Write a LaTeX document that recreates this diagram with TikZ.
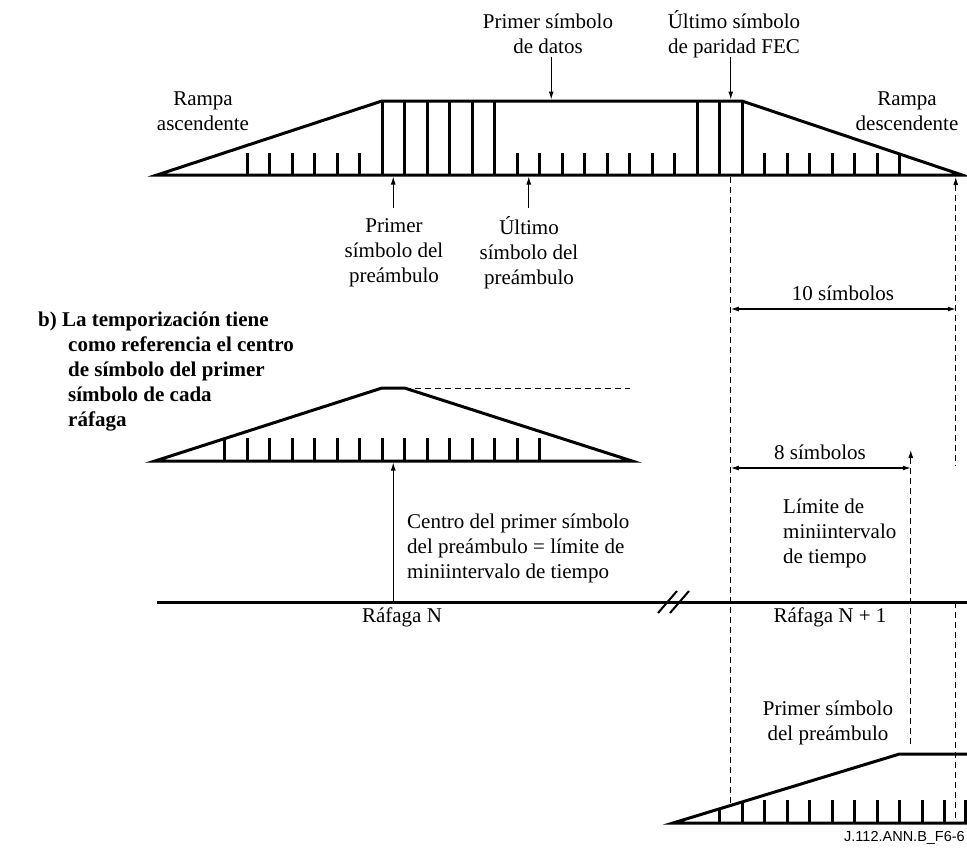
\documentclass[tikz,border=0pt]{standalone}
\usepackage{fontspec}
\setmainfont{Liberation Serif}
\newfontfamily\labelsans{Liberation Sans}
\usetikzlibrary{arrows.meta}
\begin{document}
\begin{tikzpicture}[x=1pt,y=-1pt,
  burst/.style={line width=3pt},
  tickmark/.style={line width=3pt},
  guide/.style={line width=1pt, dash pattern=on 6pt off 4pt},
  pointer/.style={line width=1.1pt, -{Latex[length=8pt,width=5pt]}},
  span/.style={line width=1.1pt, {Latex[length=8pt,width=5pt]}-{Latex[length=8pt,width=5pt]}},
  lbl/.style={font=\fontsize{21}{25}\selectfont, inner sep=0pt, align=center},
  lbll/.style={font=\fontsize{21}{25}\selectfont, inner sep=0pt, align=left, anchor=west},
]
\useasboundingbox (0,0) rectangle (967,849);

% ---------- upper burst (symbol grid: x = 382 + 22.5 k) ----------
\begin{scope}
  \clip (157,175) -- (382,101) -- (742,101) -- (962,175) -- cycle;
  \foreach \k in {-6,...,-1,6,7,...,13,17,18,...,23}
    \draw[tickmark] (382+22.5*\k,175) -- ++(0,-22.5);
  \foreach \k in {0,...,5,14,15,16}
    \draw[tickmark] (382+22.5*\k,175) -- (382+22.5*\k,101);
\end{scope}
\draw[burst] (157,175) -- (382,101) -- (742,101) -- (962,175) -- cycle;

\node[lbl] (rampUp) at (203,111) {Rampa\\ascendente};
\node[lbl] (rampDown) at (907,111) {Rampa\\descendente};
\node[lbl] (firstData) at (548,34) {Primer símbolo\\de datos};
\node[lbl] (lastFec) at (734,34) {Último símbolo\\de paridad FEC};
\node[lbl] (firstPre) at (394,253) {Primer\\símbolo del\\preámbulo};
\node[lbl] (lastPre) at (529,253) {Último\\símbolo del\\preámbulo};

\coordinate (dataTail) at (551.25,57);
\coordinate (dataHead) at (551.25,99.5);
\coordinate (fecTail) at (730.75,57);
\coordinate (fecHead) at (730.75,99.5);
\coordinate (preTail) at (393.25,208);
\coordinate (preHead) at (393.25,176.5);
\coordinate (lastPreTail) at (528.75,208);
\coordinate (lastPreHead) at (528.75,176.5);
\draw[pointer] (dataTail) -- (dataHead);
\draw[pointer] (fecTail) -- (fecHead);
\draw[pointer] (preTail) -- (preHead);
\draw[pointer] (lastPreTail) -- (lastPreHead);

% ---------- timing guides ----------
\coordinate (gA0) at (730.75,177);
\coordinate (gA1) at (730.75,805);
\coordinate (gB0) at (955.75,177);
\coordinate (gB1) at (955.75,465);
\coordinate (gB2) at (955.75,602);
\coordinate (gB3) at (955.75,823);
\coordinate (gC0) at (910.75,450);
\coordinate (gC1) at (910.75,744);
\draw[guide] (gA0) -- (gA1);
\draw[guide, {Latex[length=8pt,width=5pt]}-] (gB0) -- (gB1);
\draw[guide] (gB2) -- (gB3);
\draw[guide, {Latex[length=8pt,width=5pt]}-] (gC0) -- (gC1);

\coordinate (tenL) at (730.75,309);
\coordinate (tenR) at (955.75,309);
\draw[span] (tenL) -- (tenR);
\node[lbl] (tenLbl) at (843,293) {10 símbolos};

\coordinate (eightL) at (730.75,468);
\coordinate (eightR) at (910.75,468);
\draw[span] (eightL) -- (eightR);
\node[lbl] (eightLbl) at (820,452) {8 símbolos};

\node[lbll] (limitLbl) at (783,533) {Límite de\\miniintervalo\\de tiempo};

% ---------- explanatory note ----------
\node[lbll, font=\bfseries\fontsize{21}{25}\selectfont] (note) at (38,372)
  {b) La temporización tiene\\\hspace*{30pt}como referencia el centro\\\hspace*{30pt}de símbolo del primer\\\hspace*{30pt}símbolo de cada\\\hspace*{30pt}ráfaga};

% ---------- middle burst ----------
\begin{scope}
  \clip (155,461) -- (382,388) -- (404.5,388) -- (632,461) -- cycle;
  \foreach \k in {-7,...,7}
    \draw[tickmark] (382+22.5*\k,461) -- ++(0,-23);
\end{scope}
\draw[burst] (155,461) -- (382,388) -- (404.5,388) -- (632,461) -- cycle;
\coordinate (peakR) at (404.5,388);
\coordinate (peakEnd) at (630,388);
\draw[guide] (peakR) -- (peakEnd);

% ---------- time axis ----------
\coordinate (axisL) at (157,602);
\coordinate (axisR) at (967,602);
\draw[line width=3pt] (axisL) -- (axisR);
\coordinate (brk1a) at (658,613);
\coordinate (brk1b) at (677,591);
\coordinate (brk2a) at (670,613);
\coordinate (brk2b) at (689,591);
\draw[line width=2pt] (brk1a) -- (brk1b);
\draw[line width=2pt] (brk2a) -- (brk2b);

\coordinate (centreTail) at (393.25,600.5);
\coordinate (centreHead) at (393.25,462.5);
\draw[pointer] (centreTail) -- (centreHead);
\node[lbll] (centreLbl) at (407,548) {Centro del primer símbolo\\del preámbulo = límite de\\miniintervalo de tiempo};

\node[lbl] (burstN) at (402,617) {Ráfaga N};
\node[lbl] (burstN1) at (830,617) {Ráfaga N + 1};

% ---------- lower burst ----------
\begin{scope}
  \clip (673,823) -- (899.5,754) -- (970,754) -- (970,823) -- cycle;
  \foreach \k in {15,...,25}
    \draw[tickmark] (382+22.5*\k,823) -- ++(0,-23);
  \draw[tickmark] (965.5,823) -- ++(0,-23);
\end{scope}
\draw[burst] (967,754) -- (899.5,754) -- (673,823) -- (967,823);
\node[lbl] (firstPreB) at (828,723) {Primer símbolo\\del preámbulo};

\node[font=\labelsans\fontsize{14.5}{16}\selectfont, inner sep=0pt, anchor=east] (figId) at (965,838) {J.112.ANN.B\_F6-6};
\end{tikzpicture}
\end{document}
